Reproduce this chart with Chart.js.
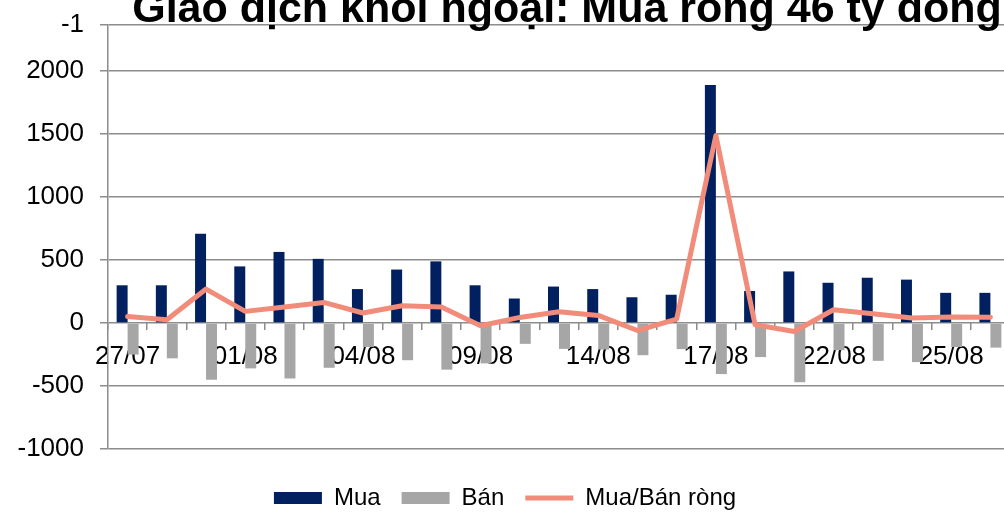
<!DOCTYPE html>
<html>
<head>
<meta charset="utf-8">
<script src="https://cdn.jsdelivr.net/npm/chart.js@4.4.0/dist/chart.umd.min.js"></script>
<style>
    html, body { margin: 0; padding: 0; background: #fff; overflow: hidden; }
    #wrap { position: relative; width: 1012px; height: 520px; }
</style>
</head>
<body>
<div id="wrap"><canvas id="chart"></canvas></div>
<script>
// ngày giao dịch
const dates = ['27/07', '28/07', '31/07', '01/08', '02/08', '03/08', '04/08', '07/08',
    '08/08', '09/08', '10/08', '11/08', '14/08', '15/08', '16/08', '17/08', '18/08',
    '21/08', '22/08', '23/08', '24/08', '25/08', '28/08'];

// giá trị mua, bán, ròng (tỷ đồng)
const muaValues = [300, 300, 710, 450, 565, 510, 270, 425, 490, 300, 195, 290, 270,
    205, 225, 1890, 255, 410, 320, 360, 345, 240, 240];
const banValues = [-250, -280, -450, -360, -440, -355, -190, -295, -370, -320, -165, -205, -210,
    -255, -207, -405, -270, -470, -215, -300, -310, -190, -195];
const rongValues = [53, 26, 270, 93, 127, 164, 80, 138, 127, -21, 45, 90, 61,
    -59, 32, 1490, -14, -67, 106, 74, 40, 48, 46];

// vạch trục tung
const yTickValues = [-1000, -500, 0, 500, 1000, 1500, 2000];
const yTopValue = 2367;
const yTopLabel = '-1';

const chartTitle = 'Giao dịch khối ngoại: Mua ròng 46 tỷ đồng';
const fontFamily = '"Liberation Sans", Arial, sans-serif';

// vẽ tiêu đề (bị cắt ở mép trên như hình gốc)
const titlePlugin = {
    id: 'tieuDe',
    afterDraw(chart) {
        const ctx = chart.ctx;
        ctx.save();
        ctx.font = 'bold 43px "Liberation Sans", sans-serif';
        ctx.fillStyle = '#000';
        ctx.textAlign = 'center';
        ctx.textBaseline = 'alphabetic';
        ctx.fillText(chartTitle, 567, 22);
        ctx.restore();
    }
};

const ctx = document.getElementById('chart').getContext('2d');
const chart = new Chart(ctx, {
    type: 'bar',
    data: {
        labels: dates,
        datasets: [
            {
                label: 'Mua',
                data: muaValues,
                backgroundColor: '#002060',
                borderWidth: 0,
                pointStyle: 'rect',
                categoryPercentage: 0.56,
                barPercentage: 1,
                order: 1
            },
            {
                label: 'Bán',
                data: banValues,
                backgroundColor: '#a6a6a6',
                borderWidth: 0,
                pointStyle: 'rect',
                categoryPercentage: 0.56,
                barPercentage: 1,
                order: 1
            },
            {
                type: 'line',
                label: 'Mua/Bán ròng',
                data: rongValues,
                borderColor: '#f28c7a',
                backgroundColor: '#f28c7a',
                borderWidth: 5,
                borderCapStyle: 'round',
                borderJoinStyle: 'round',
                pointRadius: 0,
                pointStyle: 'line',
                tension: 0,
                fill: false,
                order: 0
            }
        ]
    },
    options: {
        responsive: true,
        maintainAspectRatio: false,
        animation: false,
        layout: {
            padding: { top: 25, right: 2, left: 0, bottom: 0 }
        },
        plugins: {
            tooltip: { enabled: false },
            legend: {
                position: 'bottom',
                // khoảng trống phía trên chú thích
                title: { display: true, text: '', font: { size: 10 }, padding: { top: 2, bottom: 2 } },
                labels: {
                    usePointStyle: true,
                    pointStyleWidth: 48,
                    boxHeight: 12,
                    padding: 21,
                    color: '#000',
                    font: { family: fontFamily, size: 24 },
                    sort: (a, b) => a.datasetIndex - b.datasetIndex
                }
            }
        },
        scales: {
            x: {
                position: { y: 0 },
                z: 1,
                offset: true,
                grid: {
                    drawOnChartArea: false,
                    drawTicks: true,
                    tickLength: 7,
                    color: '#8c8c8c',
                    lineWidth: 1.5,
                    offset: true
                },
                border: { display: false },
                ticks: {
                    autoSkip: false,
                    maxRotation: 0,
                    minRotation: 0,
                    padding: 11,
                    color: '#000',
                    font: { family: fontFamily, size: 26 },
                    showLabelBackdrop: true,
                    backdropColor: '#fff',
                    backdropPadding: 0,
                    callback: function(value, index) {
                        return index % 3 === 0 ? this.getLabelForValue(value) : '';
                    }
                }
            },
            y: {
                min: -1000,
                max: yTopValue,
                afterBuildTicks: function(scale) {
                    scale.ticks = yTickValues.concat([yTopValue]).map(v => ({ value: v }));
                },
                afterFit: function(scale) {
                    scale.width = 108;
                    scale.paddingTop = 0;
                    scale.paddingBottom = 0;
                },
                grid: {
                    color: '#8c8c8c',
                    lineWidth: 1.5,
                    tickLength: 8
                },
                border: { color: '#8c8c8c', width: 1.5 },
                ticks: {
                    padding: 16,
                    color: '#000',
                    font: { family: fontFamily, size: 26 },
                    callback: value => value === yTopValue ? yTopLabel : value
                }
            }
        }
    },
    plugins: [titlePlugin]
});
</script>
</body>
</html>
